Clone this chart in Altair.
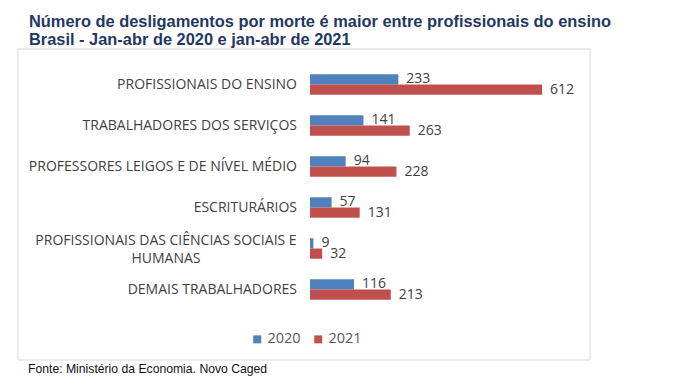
import altair as alt
import pandas as pd

categories = [
    "PROFISSIONAIS DO ENSINO",
    "TRABALHADORES DOS SERVIÇOS",
    "PROFESSORES LEIGOS E DE NÍVEL MÉDIO",
    "ESCRITURÁRIOS",
    "PROFISSIONAIS DAS CIÊNCIAS SOCIAIS E HUMANAS",
    "DEMAIS TRABALHADORES",
]
values_2020 = [233, 141, 94, 57, 9, 116]
values_2021 = [612, 263, 228, 131, 32, 213]
years = ["2020", "2021"]

title_lines = [
    "Número de desligamentos por morte é maior entre profissionais do ensino",
    "Brasil - Jan-abr de 2020 e jan-abr de 2021",
]
source_text = "Fonte: Ministério da Economia. Novo Caged"
multiline_category = "PROFISSIONAIS DAS CIÊNCIAS SOCIAIS E HUMANAS"
multiline_label = "PROFISSIONAIS DAS CIÊNCIAS SOCIAIS E\nHUMANAS"

rows = []
for c, a, b in zip(categories, values_2020, values_2021):
    rows.append({"categoria": c, "ano": years[0], "valor": a})
    rows.append({"categoria": c, "ano": years[1], "valor": b})
df = pd.DataFrame(rows)

cat_df = pd.DataFrame({
    "categoria": categories,
    "rotulo": [multiline_label if c == multiline_category else c for c in categories],
})
one = pd.DataFrame({"k": [0]})

FONT = "Open Sans"
GREY = "#404040"
NAVY = "#1F3864"
FS = 14

y_enc = alt.Y(
    "categoria:N",
    sort=categories,
    scale=alt.Scale(paddingInner=0.5, paddingOuter=0.25),
    axis=alt.Axis(labels=False, ticks=False, title=None, grid=False,
                  domainColor="#d9d9d9", domainWidth=1),
)
y_plain = alt.Y("categoria:N", sort=categories, axis=None)
yoff = alt.YOffset("ano:N", sort=years)
x_enc = alt.X("valor:Q", scale=alt.Scale(domain=[0, 712], nice=False), axis=None)

box = alt.Chart(one).mark_rect(fill="white", stroke="#d9d9d9", strokeWidth=1).encode(
    x=alt.value(-292), x2=alt.value(280), y=alt.value(-15), y2=alt.value(296)
)

bars = alt.Chart(df).mark_bar().encode(
    y=y_enc,
    yOffset=yoff,
    x=x_enc,
    color=alt.Color(
        "ano:N",
        sort=years,
        scale=alt.Scale(domain=years, range=["#4F81BD", "#C0504D"]),
        legend=alt.Legend(
            title=None, orient="none", direction="horizontal",
            legendX=-60, legendY=268, symbolType="square", symbolSize=64,
            symbolStrokeWidth=0, labelFont=FONT, labelFontSize=14.5,
            labelColor="#595959", labelOffset=3, columnPadding=10,
        ),
    ),
)

values = alt.Chart(df).mark_text(
    align="left", baseline="middle", dx=8, font=FONT, fontSize=FS, color=GREY
).encode(y=y_plain, yOffset=yoff, x=x_enc, text="valor:Q")

cat_single = alt.Chart(cat_df).transform_filter(
    alt.datum.categoria != multiline_category
).mark_text(align="right", baseline="middle", font=FONT, fontSize=FS, color=GREY).encode(
    y=y_plain, x=alt.value(-13), text="rotulo:N"
)

cat_multi = alt.Chart(cat_df).transform_filter(
    alt.datum.categoria == multiline_category
).mark_text(align="center", baseline="middle", lineBreak="\n", lineHeight=18, dy=-8,
            font=FONT, fontSize=FS, color=GREY).encode(
    y=y_plain, x=alt.value(-144), text="rotulo:N"
)

title1 = alt.Chart(one).mark_text(
    align="left", baseline="alphabetic", font="Liberation Sans", fontSize=16.4,
    fontWeight="bold", color=NAVY, text=title_lines[0]
).encode(x=alt.value(-281), y=alt.value(-37))

title2 = alt.Chart(one).mark_text(
    align="left", baseline="alphabetic", font="Liberation Sans", fontSize=16.4,
    fontWeight="bold", color=NAVY, text=title_lines[1]
).encode(x=alt.value(-281), y=alt.value(-19))

source = alt.Chart(one).mark_text(
    align="left", baseline="middle", font="Liberation Sans", fontSize=12.2,
    color="#111111", text=source_text
).encode(x=alt.value(-282), y=alt.value(305))

chart = alt.layer(
    box, bars, values, cat_single, cat_multi, title1, title2, source
).properties(
    width=270,
    height=246,
    autosize=alt.AutoSizeParams(type="none"),
    padding={"left": 302, "top": 56, "right": 86, "bottom": 69},
).configure_view(strokeWidth=0).configure(background="white")

chart.save("out.html", embed_options={"renderer": "svg", "actions": False})
